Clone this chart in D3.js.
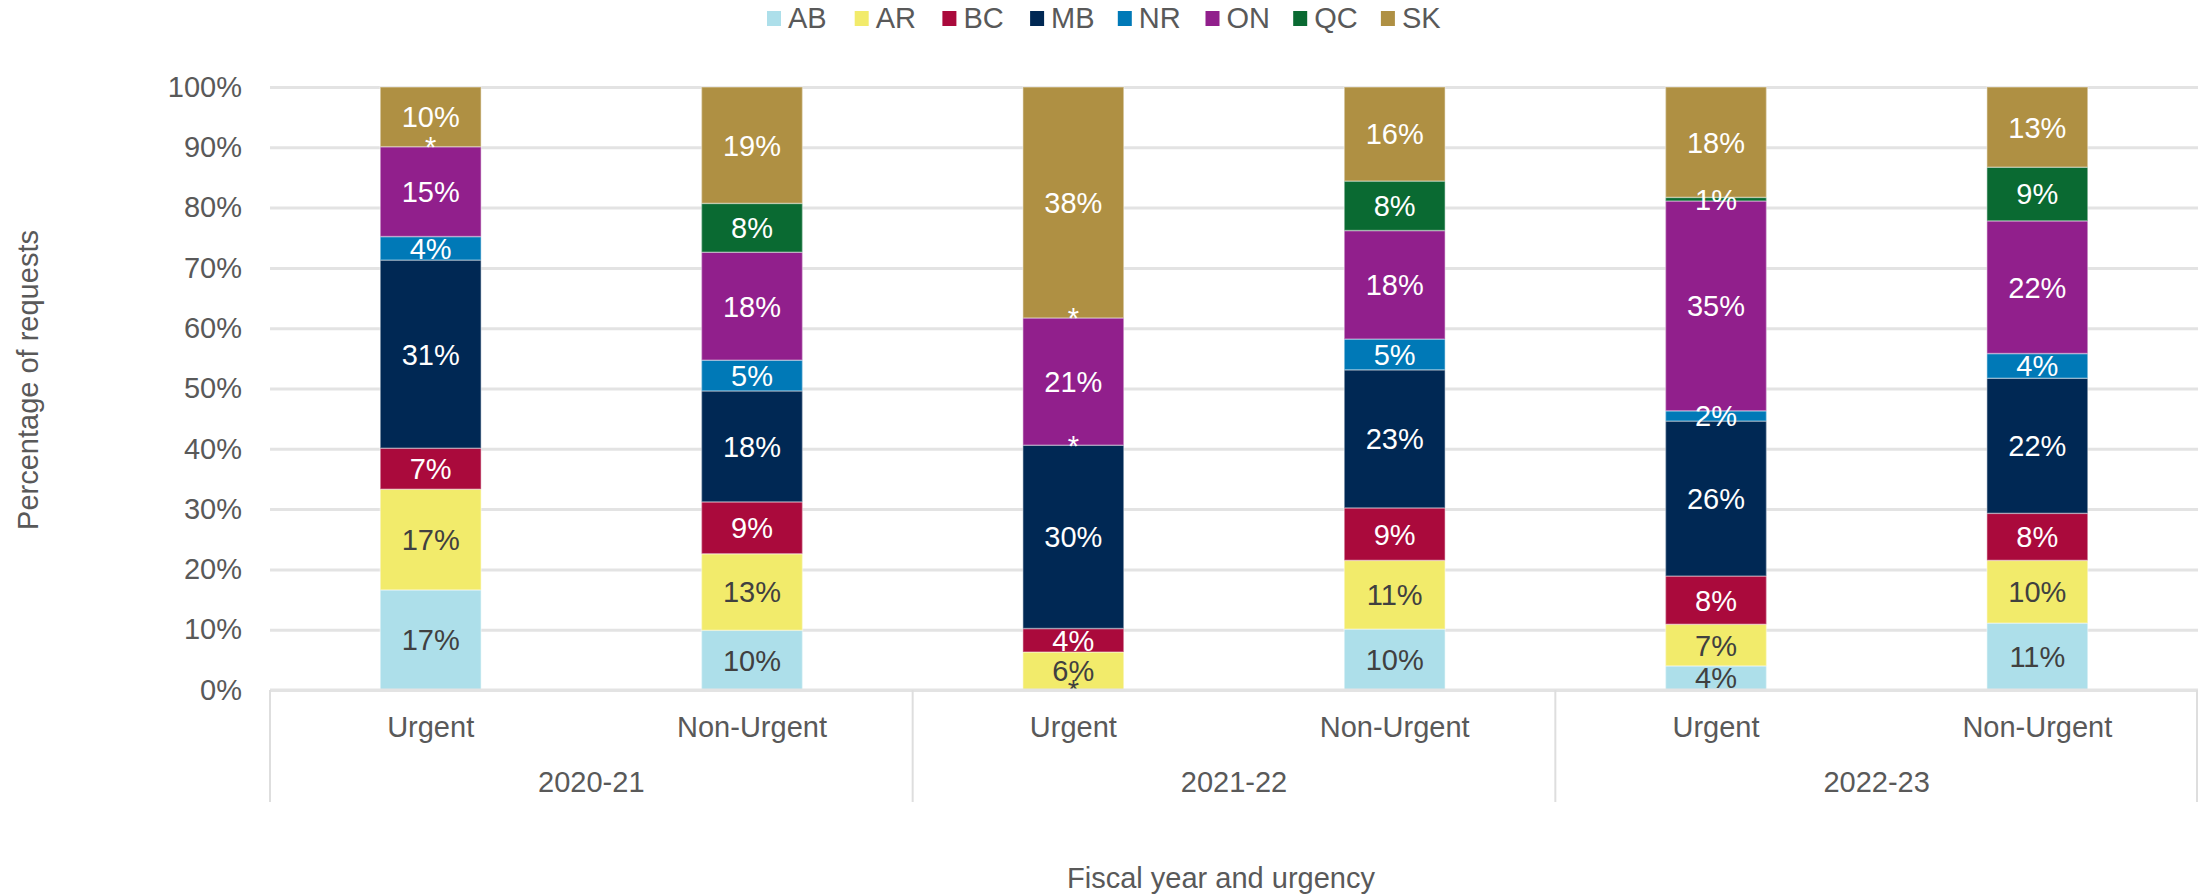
<!DOCTYPE html>
<html>
<head>
<meta charset="utf-8">
<script src="https://cdnjs.cloudflare.com/ajax/libs/d3/7.8.5/d3.min.js"></script>
<style>
  html, body { margin: 0; padding: 0; background: #fff; }
  svg text { font-family: "Liberation Sans", Arial, sans-serif; }
</style>
</head>
<body>
<svg id="chart" width="2198" height="896"></svg>
<script>
// fiscal years and urgency, one bar per pair
var years = ['2020-21', '2021-22', '2022-23'];
var urgencies = ['Urgent', 'Non-Urgent'];

// province keys, bottom of the stack first
var series_keys = ['AB', 'AR', 'BC', 'MB', 'NR', 'ON', 'QC', 'SK'];
var series_colors = ['#addfea', '#f2eb6b', '#aa0a3c', '#002854', '#0079b7', '#911f8c', '#0a6a32', '#af9043'];

// percent of requests per bar (null = suppressed, shown as *)
var ab_values = [16.6, 9.9, null, 10.1, 4.0, 11.1];
var ar_values = [16.7, 12.7, 6.3, 11.4, 6.9, 10.4];
var bc_values = [6.8, 8.6, 3.9, 8.7, 8.0, 7.8];
var mb_values = [31.2, 18.4, 30.4, 22.9, 25.7, 22.4];
var nr_values = [3.9, 5.1, null, 5.1, 1.7, 4.1];
var on_values = [14.9, 17.9, 21.1, 18.0, 34.8, 22.0];
var qc_values = [null, 8.1, null, 8.2, 0.6, 8.9];
var sk_values = [9.9, 19.3, 38.3, 15.6, 18.3, 13.3];

var y_ticks = [0, 10, 20, 30, 40, 50, 60, 70, 80, 90, 100];

var value_lists = {
  AB: ab_values, AR: ar_values, BC: bc_values, MB: mb_values,
  NR: nr_values, ON: on_values, QC: qc_values, SK: sk_values
};

// build rows for d3.stack
var rows = [];
years.forEach(function(year, yi) {
  urgencies.forEach(function(urg, ui) {
    var idx = yi * urgencies.length + ui;
    var row = { key: year + '|' + urg, year: year, urgency: urg };
    series_keys.forEach(function(k) {
      var v = value_lists[k][idx];
      row[k] = v === null ? 0 : v;
      row[k + '_sup'] = v === null;
    });
    rows.push(row);
  });
});

var svg = d3.select('#chart');
var font_size = 29;
var text_color = '#595959';

var plot = { left: 270, right: 2198, top: 87, bottom: 690 };

var x_scale = d3.scaleBand()
  .domain(rows.map(function(d) { return d.key; }))
  .range([plot.left, plot.right])
  .paddingInner(0.686)
  .paddingOuter(0.343);

var year_scale = d3.scaleBand()
  .domain(years)
  .range([plot.left, plot.right]);

var y_scale = d3.scaleLinear()
  .domain([0, 100])
  .range([plot.bottom, plot.top]);

var color_scale = d3.scaleOrdinal()
  .domain(series_keys)
  .range(series_colors);

// gridlines and y tick labels
var y_axis = d3.axisLeft(y_scale)
  .tickValues(y_ticks)
  .tickSize(-(plot.right - plot.left))
  .tickPadding(28)
  .tickFormat(function(d) { return d + '%'; });

var y_axis_g = svg.append('g')
  .attr('class', 'y_axis')
  .attr('transform', 'translate(' + plot.left + ',0)')
  .call(y_axis);

y_axis_g.select('.domain').remove();
y_axis_g.selectAll('.tick line')
  .attr('stroke', '#e3e3e3')
  .attr('stroke-width', 3);
y_axis_g.selectAll('.tick text')
  .attr('fill', text_color)
  .style('font-size', font_size + 'px');

// stacked bars
var stacked = d3.stack().keys(series_keys)(rows);

var layer = svg.append('g')
  .attr('class', 'bar_container')
  .selectAll('g')
  .data(stacked)
  .enter()
  .append('g')
  .attr('fill', function(d) { return color_scale(d.key); });

layer.selectAll('rect')
  .data(function(d) { return d; })
  .enter()
  .append('rect')
  .attr('x', function(d) { return x_scale(d.data.key); })
  .attr('width', x_scale.bandwidth())
  .attr('y', function(d) { return y_scale(d[1]); })
  .attr('height', function(d) { return y_scale(d[0]) - y_scale(d[1]); })
  .attr('stroke', 'rgba(255,255,255,0.35)')
  .attr('stroke-width', 1.5);

// segment labels, in their own layer so no rect covers them
var label_layer = svg.append('g')
  .attr('class', 'label_container')
  .selectAll('g')
  .data(stacked)
  .enter()
  .append('g');

label_layer.each(function(series) {
  var key = series.key;
  var dark = key === 'AB' || key === 'AR';
  d3.select(this)
    .selectAll('text')
    .data(series)
    .enter()
    .append('text')
    .attr('x', function(d) { return x_scale(d.data.key) + x_scale.bandwidth() / 2; })
    .attr('y', function(d) { return y_scale((d[0] + d[1]) / 2); })
    .attr('dy', '0.36em')
    .attr('text-anchor', 'middle')
    .attr('fill', dark ? '#404040' : '#ffffff')
    .style('font-size', font_size + 'px')
    .text(function(d) {
      if (d.data[key + '_sup']) { return '*'; }
      return Math.round(d.data[key]) + '%';
    });
});

// category axis box
var cat_axis = svg.append('g').attr('class', 'cat_axis');

cat_axis.append('line')
  .attr('x1', plot.left).attr('x2', plot.right)
  .attr('y1', plot.bottom).attr('y2', plot.bottom)
  .attr('stroke', '#e3e3e3')
  .attr('stroke-width', 3);

var sep_x = years.map(function(y) { return year_scale(y); }).concat([plot.right - 1]);
cat_axis.selectAll('.sep')
  .data(sep_x)
  .enter()
  .append('line')
  .attr('class', 'sep')
  .attr('x1', function(d) { return d; })
  .attr('x2', function(d) { return d; })
  .attr('y1', plot.bottom)
  .attr('y2', 802)
  .attr('stroke', '#dedede')
  .attr('stroke-width', 2);

cat_axis.selectAll('.urg_label')
  .data(rows)
  .enter()
  .append('text')
  .attr('class', 'urg_label')
  .attr('x', function(d) { return x_scale(d.key) + x_scale.bandwidth() / 2; })
  .attr('y', 737)
  .attr('text-anchor', 'middle')
  .attr('fill', text_color)
  .style('font-size', font_size + 'px')
  .text(function(d) { return d.urgency; });

cat_axis.selectAll('.year_label')
  .data(years)
  .enter()
  .append('text')
  .attr('class', 'year_label')
  .attr('x', function(d) { return year_scale(d) + year_scale.bandwidth() / 2; })
  .attr('y', 792)
  .attr('text-anchor', 'middle')
  .attr('fill', text_color)
  .style('font-size', font_size + 'px')
  .text(function(d) { return d; });

// axis titles
svg.append('text')
  .attr('transform', 'translate(38,380) rotate(-90)')
  .attr('text-anchor', 'middle')
  .attr('fill', text_color)
  .style('font-size', font_size + 'px')
  .text('Percentage of requests');

svg.append('text')
  .attr('x', 1221)
  .attr('y', 888)
  .attr('text-anchor', 'middle')
  .attr('fill', text_color)
  .style('font-size', font_size + 'px')
  .text('Fiscal year and urgency');

// legend
var legend = svg.append('g')
  .attr('class', 'legend')
  .selectAll('g')
  .data(series_keys)
  .enter()
  .append('g')
  .attr('transform', function(d, i) { return 'translate(' + (767 + i * 87.7) + ',0)'; });

legend.append('rect')
  .attr('x', 0)
  .attr('y', 11)
  .attr('width', 14)
  .attr('height', 15)
  .attr('fill', function(d) { return color_scale(d); });

legend.append('text')
  .attr('x', 21)
  .attr('y', 18)
  .attr('dy', '0.36em')
  .attr('fill', text_color)
  .style('font-size', font_size + 'px')
  .text(function(d) { return d; });
</script>
</body>
</html>
